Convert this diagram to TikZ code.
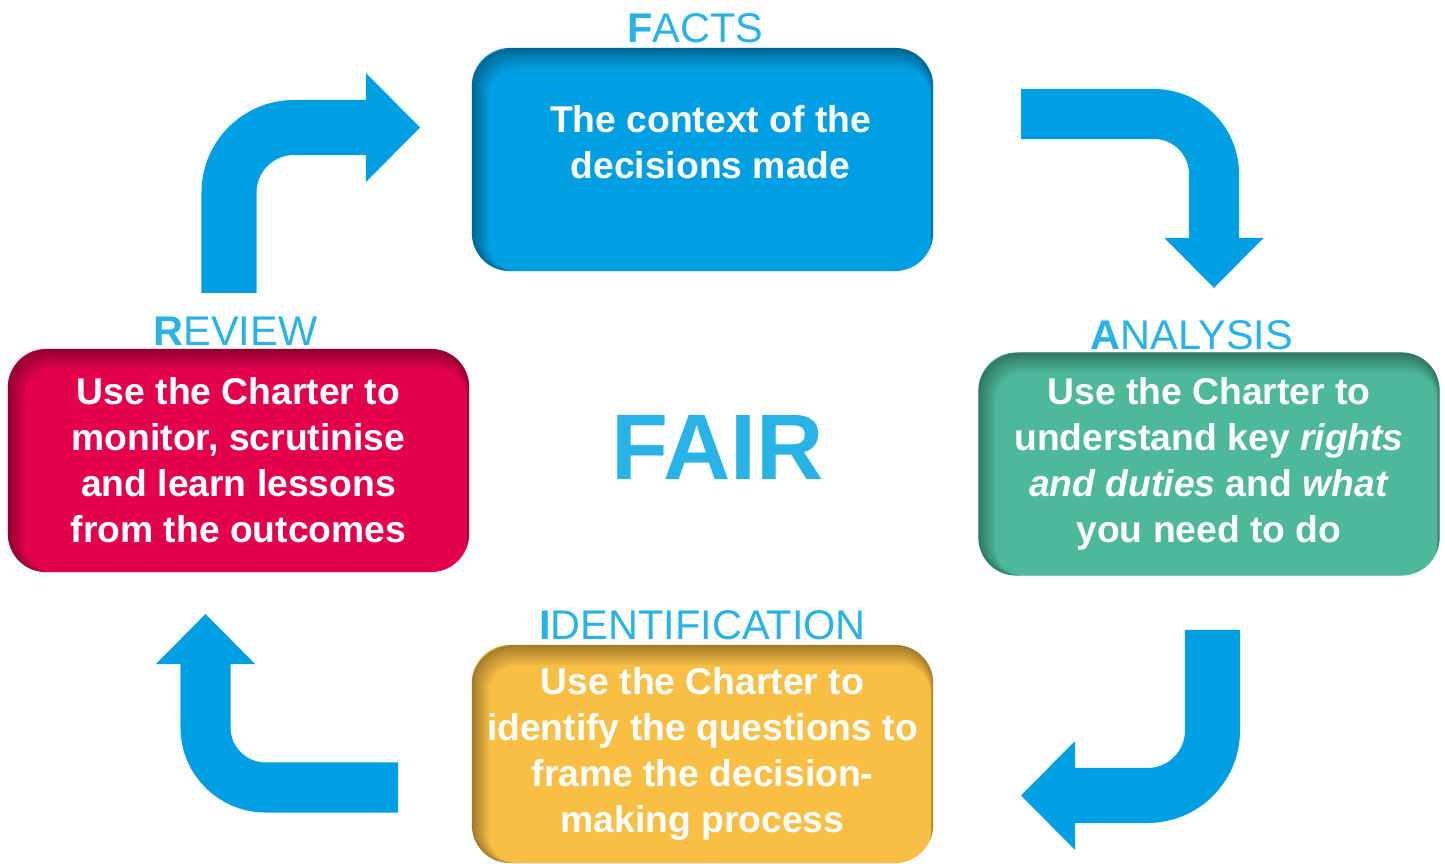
\documentclass[tikz,border=0pt]{standalone}
\usepackage{fontspec}
\setmainfont{Liberation Sans}
\usetikzlibrary{arrows.meta,positioning}
\definecolor{arrowBlue}{HTML}{009FE3}
\definecolor{labelBlue}{HTML}{29B2E5}
\definecolor{factsBlue}{HTML}{009FE3}
\definecolor{reviewRed}{HTML}{E2004F}
\definecolor{analysisGreen}{HTML}{4DB89B}
\definecolor{identYellow}{HTML}{F9BF45}
\tikzset{
    cardtext/.style={
        align=center,
        text=white,
        inner sep=0pt,
        font=\fontsize{10.6}{13.1}\selectfont\bfseries
    },
    card/.style={
        cardtext,
        rectangle,
        rounded corners=0.38cm,
        minimum width=4.61cm,
        minimum height=2.23cm,
        path picture={
            % inset shadow along the top and left edges
            \foreach \h [evaluate=\h as \w using 2*\h,
                         evaluate=\h as \sx using 0.7*\h]
                    in {0.100,0.088,0.076,0.064,0.052,0.040,0.030,0.020,0.012}
                \draw[line width=\w cm, draw=black, draw opacity=0.045, rounded corners=0.38cm]
                    ([shift={(\sx cm,-\h cm)}]path picture bounding box.north west)
                    rectangle ([shift={(\sx cm,-\h cm)}]path picture bounding box.south east);
        }
    },
    stage/.style={
        text=labelBlue,
        inner sep=0pt,
        font=\fontsize{11.8}{14}\selectfont
    },
    wideturn/.style={
        draw=arrowBlue,
        line width=0.55cm,
        rounded corners=0.65cm,
        -{Triangle[length=0.54cm,width=1.09cm,line width=0pt]}
    },
    narrowturn/.style={
        draw=arrowBlue,
        line width=0.50cm,
        rounded corners=0.60cm,
        -{Triangle[length=0.50cm,width=0.99cm,line width=0pt]}
    }
}

\begin{document}
\begin{tikzpicture}[x=0.01cm,y=-0.01cm]
    \useasboundingbox (0,0) rectangle (1445,864);

    \node[card, fill=factsBlue] (facts) at (702.5,159.5) {};
    \node[cardtext] (factstext) at ([xshift=0.08cm,yshift=0.17cm]facts.center)
        {The context of the\\decisions made};
    \node[card, fill=reviewRed] (review) at (238.5,460.5)
        {Use the Charter to\\monitor, scrutinise\\and learn lessons\\from the outcomes};
    \node[card, fill=analysisGreen] (analysis) at (1209,464)
        {Use the Charter to\\understand key \textit{rights}\\\textit{and duties} and \textit{what}\\you need to do};
    \node[card, fill=identYellow, minimum height=2.18cm] (ident) at (702.5,754)
        {Use the Charter to\\identify the questions to\\frame the decision-\\making process};

    \node[stage, above=0.04cm of facts, xshift=-0.07cm] (factslabel) {\textbf{F}ACTS};
    \node[stage, above=0.02cm of review, xshift=-0.03cm] (reviewlabel) {\textbf{R}EVIEW};
    \node[stage, above=0.01cm of analysis, xshift=-0.17cm] (analysislabel) {\textbf{A}NALYSIS};
    \node[stage, above=0.04cm of ident] (identlabel) {\textbf{I}DENTIFICATION};

    \node[text=labelBlue, font=\fontsize{26.5}{30}\selectfont\bfseries] (fair) at (717.5,447) {FAIR};

    \coordinate (rvOut) at (229,293);
    \coordinate (ftIn) at (420,127.5);
    \coordinate (ftOut) at (1021,114);
    \coordinate (anIn) at (1214,288);
    \coordinate (anOut) at (1212.5,630);
    \coordinate (idIn) at (1021,795.5);
    \coordinate (idOut) at (398,787.5);
    \coordinate (rvIn) at (205.5,614);

    \draw[wideturn] (rvOut) |- (ftIn);
    \draw[narrowturn] (ftOut) -| (anIn);
    \draw[wideturn] (anOut) |- (idIn);
    \draw[narrowturn] (idOut) -| (rvIn);
\end{tikzpicture}
\end{document}
